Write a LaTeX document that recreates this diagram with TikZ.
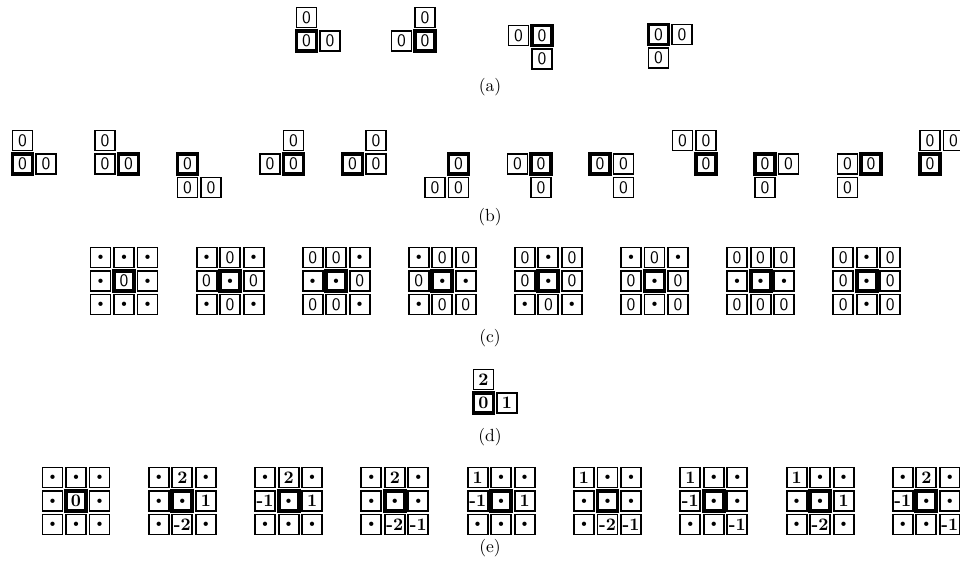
\documentclass[tikz,border=0pt]{standalone}
\newcommand{\dt}{{\tiny$\bullet$}}
% 3x3 block: origin x, origin y, name, nine entries
\newcommand{\ninegrid}[4]{%
  \foreach \txt [count=\n from 0] in {#4} {
    \pgfmathtruncatemacro\cx{mod(\n,3)}
    \pgfmathtruncatemacro\cy{div(\n,3)}
    \ifnum\n=4 \def\sty{boldcell}\else\def\sty{cell}\fi
    \node[\sty] (#3-\n) at ({#1+10.5+23.5*\cx},{#2+10.5+23.5*\cy}) {\txt};
  }}
\begin{document}
\begin{tikzpicture}[x=0.02cm,y=-0.02cm,
  cell/.style={draw,line width=1.1pt,minimum size=0.4cm,inner sep=0pt},
  boldcell/.style={cell,line width=2.2pt}]
\useasboundingbox (0,0) rectangle (960,569);
% (a)
\begin{scope}[font=\sffamily]
\foreach \ox/\oy/\cx/\cy/\sty [count=\n] in {296/7/0/0/cell,296/7/0/1/boldcell,296/7/1/1/cell,
  391/7/1/0/cell,391/7/0/1/cell,391/7/1/1/boldcell,
  508/25/0/0/cell,508/25/1/0/boldcell,508/25/1/1/cell,
  648/24/0/0/boldcell,648/24/1/0/cell,648/24/0/1/cell}
  \node[\sty] (a\n) at ({\ox+10.5+23.5*\cx},{\oy+10.5+23.5*\cy}) {0};
% (b)
\foreach \ox/\cx/\cy/\sty [count=\n] in {12/0/0/cell,12/0/1/boldcell,12/1/1/cell,
  94.5/0/0/cell,94.5/0/1/cell,94.5/1/1/boldcell,
  177/0/1/boldcell,177/0/2/cell,177/1/2/cell,
  259.5/1/0/cell,259.5/0/1/cell,259.5/1/1/boldcell,
  342/1/0/cell,342/0/1/boldcell,342/1/1/cell,
  424.5/1/1/boldcell,424.5/0/2/cell,424.5/1/2/cell,
  507/0/1/cell,507/1/1/boldcell,507/1/2/cell,
  589.5/0/1/boldcell,589.5/1/1/cell,589.5/1/2/cell,
  672/0/0/cell,672/1/0/cell,672/1/1/boldcell,
  754.5/0/1/boldcell,754.5/1/1/cell,754.5/0/2/cell,
  837/0/1/cell,837/1/1/boldcell,837/0/2/cell,
  919.5/0/0/cell,919.5/1/0/cell,919.5/0/1/boldcell}
  \node[\sty] (b\n) at ({\ox+10.5+23.5*\cx},{140.5+23.5*\cy}) {0};
% (c)
\ninegrid{90}{247}{c1}{\dt,\dt,\dt,\dt,0,\dt,\dt,\dt,\dt}
\ninegrid{196.1}{247}{c2}{\dt,0,\dt,0,\dt,0,\dt,0,\dt}
\ninegrid{302.2}{247}{c3}{0,0,\dt,\dt,\dt,0,0,0,\dt}
\ninegrid{408.3}{247}{c4}{\dt,0,0,0,\dt,\dt,\dt,0,0}
\ninegrid{514.4}{247}{c5}{0,\dt,0,0,\dt,0,\dt,0,\dt}
\ninegrid{620.5}{247}{c6}{\dt,0,\dt,0,\dt,0,0,\dt,0}
\ninegrid{726.6}{247}{c7}{0,0,0,\dt,\dt,\dt,0,0,0}
\ninegrid{832.7}{247}{c8}{0,\dt,0,0,\dt,0,0,\dt,0}
\end{scope}
% (d)
\begin{scope}[font=\bfseries]
\node[cell] (d2) at (483.5,379.5) {2};
\node[boldcell] (d0) at (483.5,403) {0};
\node[cell] (d1) at (507,403) {1};
% (e)
\ninegrid{42}{467}{e1}{\dt,\dt,\dt,\dt,0,\dt,\dt,\dt,\dt}
\ninegrid{148.3}{467}{e2}{\dt,2,\dt,\dt,\dt,1,\dt,-2,\dt}
\ninegrid{254.6}{467}{e3}{\dt,2,\dt,-1,\dt,1,\dt,\dt,\dt}
\ninegrid{360.9}{467}{e4}{\dt,2,\dt,\dt,\dt,\dt,\dt,-2,-1}
\ninegrid{467.2}{467}{e5}{1,\dt,\dt,-1,\dt,1,\dt,\dt,\dt}
\ninegrid{573.5}{467}{e6}{1,\dt,\dt,\dt,\dt,\dt,\dt,-2,-1}
\ninegrid{679.8}{467}{e7}{1,\dt,\dt,-1,\dt,\dt,\dt,\dt,-1}
\ninegrid{786.1}{467}{e8}{1,\dt,\dt,\dt,\dt,1,\dt,-2,\dt}
\ninegrid{892.4}{467}{e9}{\dt,2,\dt,-1,\dt,\dt,\dt,\dt,-1}
\end{scope}
% captions
\node (capa) at (490,87) {(a)};
\node (capb) at (490,217) {(b)};
\node (capc) at (490,338) {(c)};
\node (capd) at (490,437) {(d)};
\node (cape) at (490,548) {(e)};
\end{tikzpicture}
\end{document}
